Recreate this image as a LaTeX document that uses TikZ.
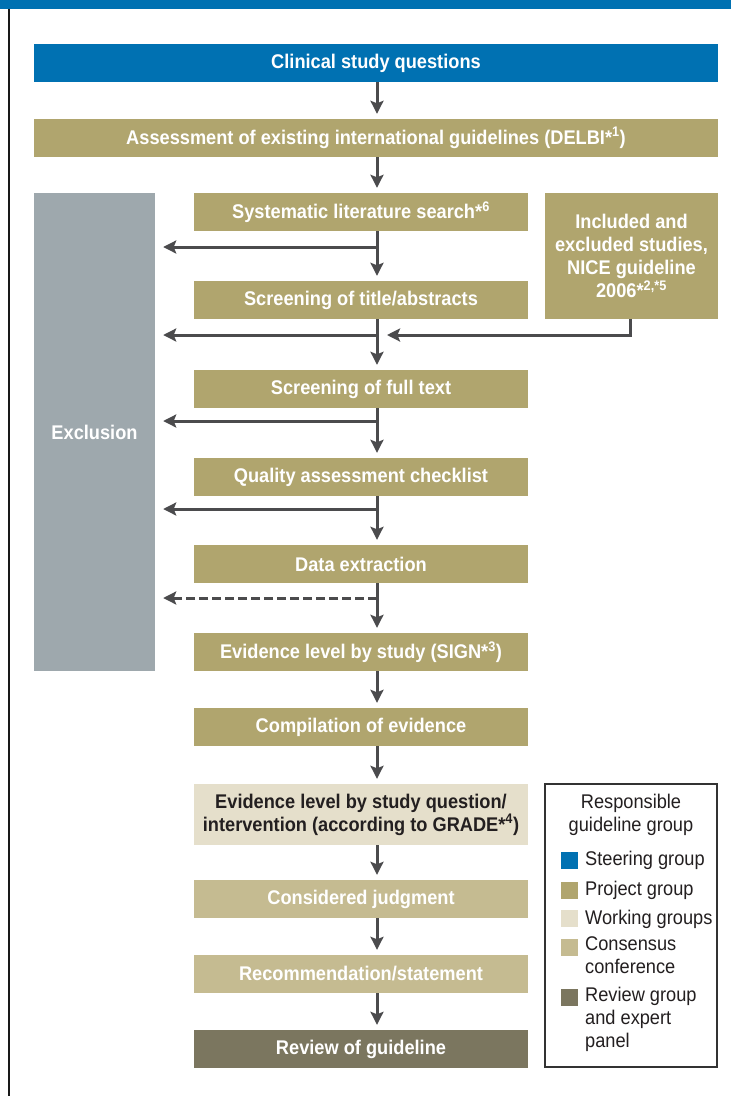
\documentclass[tikz,border=0pt]{standalone}
\usepackage{fontspec}
\setmainfont{Liberation Sans}[FakeStretch=0.92]
\usetikzlibrary{arrows.meta}
\definecolor{steer}{RGB}{0,113,178}
\definecolor{proj}{RGB}{176,165,110}
\definecolor{work}{RGB}{229,223,203}
\definecolor{cons}{RGB}{197,187,145}
\definecolor{revw}{RGB}{123,118,95}
\definecolor{excl}{RGB}{158,168,173}
\definecolor{arrc}{RGB}{75,75,77}
\definecolor{darktext}{RGB}{35,31,32}
\begin{document}
\begin{tikzpicture}[x=1pt,y=-1pt,
  box/.style={rectangle, inner sep=0pt, text=white, align=center,
    font=\bfseries\fontsize{19.8}{23}\selectfont},
  wide/.style={box, minimum width=684pt, minimum height=38pt},
  mid/.style={box, minimum width=334pt, minimum height=38pt},
  arr/.style={draw=arrc, line width=3pt, -{Stealth[length=13pt,width=13pt,inset=2.5pt]}},
  dn/.style={arr, shorten >=5pt},
  lft/.style={arr, shorten >=8pt},
  legtxt/.style={inner sep=0pt, align=left, anchor=west, text=darktext,
    font=\fontsize{19.8}{23}\selectfont},
  sq/.style={rectangle, inner sep=0pt, minimum size=17pt}
]
\useasboundingbox (0,0) rectangle (731,1096);
% frame pieces
\fill[steer] (0,0) rectangle (731,9);
\draw[line width=2pt, black!90] (9,9) -- (9,1096);

% main column
\node[wide, fill=steer] (csq) at (376,63) {Clinical study questions};
\node[wide, fill=proj] (ada) at (376,138) {Assessment of existing international guidelines (DELBI*\textsuperscript{1})};
\node[box, fill=excl, minimum width=121pt, minimum height=478pt] (exc) at (94.5,432) {Exclusion};
\node[mid, fill=proj] (sls) at (361,212) {Systematic literature search*\textsuperscript{6}};
\node[box, fill=proj, minimum width=173pt, minimum height=126pt] (inc) at (631.5,256) {Included and\\excluded studies,\\NICE guideline\\2006*\textsuperscript{2,*5}};
\node[mid, fill=proj] (sta) at (361,300) {Screening of title/abstracts};
\node[mid, fill=proj] (sft) at (361,389) {Screening of full text};
\node[mid, fill=proj] (qac) at (361,477) {Quality assessment checklist};
\node[mid, fill=proj] (dex) at (361,564) {Data extraction};
\node[mid, fill=proj] (els) at (361,652) {Evidence level by study (SIGN*\textsuperscript{3})};
\node[mid, fill=proj] (coe) at (361,727) {Compilation of evidence};
\node[mid, fill=work, minimum height=61pt, text=darktext] (elq) at (361,814.5) {Evidence level by study question/\\intervention (according to GRADE*\textsuperscript{4})};
\node[mid, fill=cons] (cjd) at (361,899) {Considered judgment};
\node[mid, fill=cons] (rec) at (361,974) {Recommendation/statement};
\node[mid, fill=revw] (rev) at (361,1049) {Review of guideline};

% arrow axis
\coordinate (ax) at (377,0);
\draw[dn] (csq.south -| ax) -- (ada.north -| ax);
\draw[dn] (ada.south -| ax) -- (sls.north -| ax);
\draw[dn] (sls.south -| ax) -- (sta.north -| ax);
\draw[dn] (sta.south -| ax) -- (sft.north -| ax);
\draw[dn] (sft.south -| ax) -- (qac.north -| ax);
\draw[dn] (qac.south -| ax) -- (dex.north -| ax);
\draw[dn] (dex.south -| ax) -- (els.north -| ax);
\draw[dn] (els.south -| ax) -- (coe.north -| ax);
\draw[dn] (coe.south -| ax) -- (elq.north -| ax);
\draw[dn] (elq.south -| ax) -- (cjd.north -| ax);
\draw[dn] (cjd.south -| ax) -- (rec.north -| ax);
\draw[dn] (rec.south -| ax) -- (rev.north -| ax);

% branches to exclusion
\coordinate (j1) at (377,247);
\coordinate (j2) at (377,335);
\coordinate (j3) at (377,421);
\coordinate (j4) at (377,509);
\coordinate (j5) at (377,598);
\draw[lft] (j1) -- (j1 -| exc.east);
\draw[lft] (j2) -- (j2 -| exc.east);
\draw[lft] (j3) -- (j3 -| exc.east);
\draw[lft] (j4) -- (j4 -| exc.east);
\draw[lft, dash pattern=on 9pt off 4pt] (j5) -- (j5 -| exc.east);

% included studies feed
\coordinate (incb) at (630,319);
\draw[arr, shorten >=10pt] (incb) |- (j2);

% legend
\node[draw=black!80, line width=1.2pt, fill=white, minimum width=172pt, minimum height=283pt, inner sep=0pt] (leg) at (631,925.5) {};
\node[inner sep=0pt, align=center, text=darktext, font=\fontsize{19.8}{23}\selectfont] (legt) at (631,815) {Responsible\\guideline group};
\node[sq, fill=steer] (s1) at (569.5,860.5) {};
\node[sq, fill=proj]  (s2) at (569.5,890) {};
\node[sq, fill=work]  (s3) at (569.5,918.5) {};
\node[sq, fill=cons]  (s4) at (569.5,947.5) {};
\node[sq, fill=revw]  (s5) at (569.5,997.5) {};
\node[legtxt] (l1) at (585,860) {Steering group};
\node[legtxt] (l2) at (585,890) {Project group};
\node[legtxt] (l3) at (585,919) {Working groups};
\node[legtxt, anchor=north west] (l4) at (585,936) {Consensus\\conference};
\node[legtxt, anchor=north west] (l5) at (585,987) {Review group\\and expert\\panel};
\end{tikzpicture}
\end{document}
